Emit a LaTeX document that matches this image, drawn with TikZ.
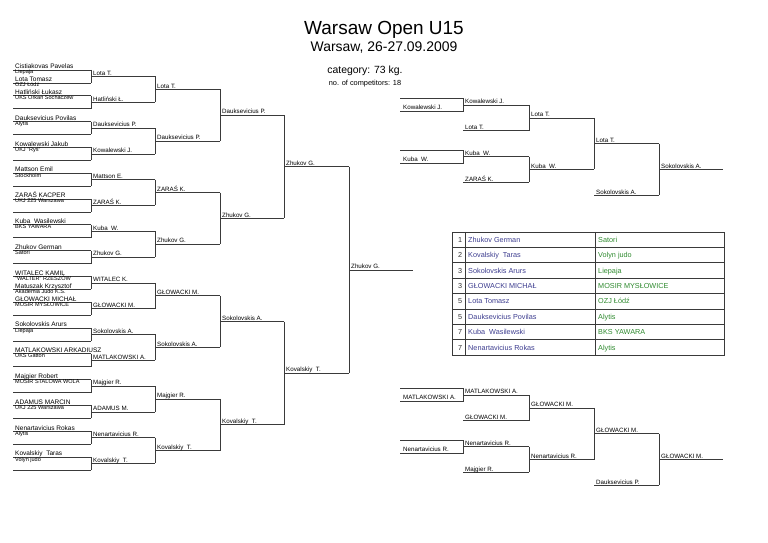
\documentclass[tikz,border=0pt]{standalone}
\usepackage{fontspec}
\setmainfont{Liberation Sans}
\usetikzlibrary{positioning}
\definecolor{bracketgray}{HTML}{3A3A3A}
\definecolor{placename}{HTML}{3D3D8F}
\definecolor{placeclub}{HTML}{2F8A2F}

% one column of a bracket: x from, x to, first y, step, node prefix, names
\newcommand{\drawround}[6]{%
  \foreach \nm [count=\m from 0] in {#6} {
    \pgfmathsetmacro\yy{#3+#4*\m}
    \draw[bline] (#1,\yy) -- (#2,\yy);
    \node[winner] (#5\m) at (#1+2,\yy-1.2) {\nm};
  }%
}
% vertical joins: x, first y, step, number of pairs
\newcommand{\joinpairs}[4]{%
  \foreach \m in {1,...,#4} {
    \pgfmathsetmacro\yy{#2+2*#3*(\m-1)}
    \draw[bline] (#1,\yy) -- (#1,\yy+#3);
  }%
}

\begin{document}
\begin{tikzpicture}[
    x=0.03cm, y=-0.03cm,
    % Styles
    bline/.style={draw=bracketgray, line width=0.55pt},
    entrant/.style={anchor=base west, inner sep=0pt, font=\fontsize{5.55}{6}\selectfont},
    clubname/.style={anchor=base west, inner sep=0pt, font=\fontsize{4.75}{5}\selectfont},
    winner/.style={anchor=base west, inner sep=0pt, font=\fontsize{5.3}{6}\selectfont},
    tabletext/.style={anchor=base west, inner sep=0pt, font=\fontsize{6.2}{7}\selectfont}
]
\useasboundingbox (0,0) rectangle (768,543);

% ── HEADER ──
\node[anchor=base, inner sep=0pt, font=\fontsize{16.2}{18}\selectfont] (title) at (384,35) {Warsaw Open U15};
\node[anchor=base, inner sep=0pt, font=\fontsize{11.9}{13}\selectfont] (venue) at (384,52) {Warsaw, 26-27.09.2009};
\node[anchor=base, inner sep=0pt, font=\fontsize{8.9}{10}\selectfont] (category) at (365,73.5) {category: 73 kg.};
\node[anchor=base, inner sep=0pt, font=\fontsize{6.3}{7}\selectfont] (count) at (365,85.5) {no. of competitors: 18};

% ── MAIN BRACKET: FIRST ROUND ──
\foreach \nm/\cl [count=\k from 0] in {
    Cistiakovas Pavelas/Liepaja,
    Lota Tomasz/OZJ Łódź,
    Hatliński Łukasz/UKS Orkan Sochaczew,
    {}/{},
    Dauksevicius Povilas/Alytis,
    {}/{},
    Kowalewski Jakub/UKJ "Ryś",
    {}/{},
    Mattson Emil/Stockholm,
    {}/{},
    ZARAŚ KACPER/UKJ 225 Warszawa,
    {}/{},
    Kuba~ Wasilewski/BKS YAWARA,
    {}/{},
    Zhukov German/Satori,
    {}/{},
    WITALEC KAMIL/"WALTER" RZESZÓW,
    Matuszak Krzysztof/Akademia Judo K.S.,
    GŁOWACKI MICHAŁ/MOSIR MYSŁOWICE,
    {}/{},
    Sokolovskis Arurs/Liepaja,
    {}/{},
    MATLAKOWSKI ARKADIUSZ/UKS Gatton,
    {}/{},
    Majgier Robert/MOSIR STALOWA WOLA,
    {}/{},
    ADAMUS MARCIN/UKJ 225 Warszawa,
    {}/{},
    Nenartavicius Rokas/Alytis,
    {}/{},
    Kovalskiy~ Taras/Volyn judo,
    {}/{}} {
  \pgfmathsetmacro\yy{70+12.9*\k}
  \draw[bline] (13,\yy) -- (91,\yy);
  \node[entrant] (entry\k) at (15,\yy-1.2) {\nm};
  \node[clubname] (club\k) at (15,\yy+4) {\cl};
}
\joinpairs{91}{70}{12.9}{16}

% ── MAIN BRACKET: LATER ROUNDS ──
\drawround{91}{155}{76.45}{25.8}{wa}{Lota T., Hatliński Ł., Dauksevicius P., Kowalewski J., Mattson E., ZARAŚ K., Kuba~ W., Zhukov G., WITALEC K., GŁOWACKI M., Sokolovskis A., MATLAKOWSKI A., Majgier R., ADAMUS M., Nenartavicius R., Kovalskiy~ T.}
\joinpairs{155}{76.45}{25.8}{8}
\drawround{155}{220}{89.35}{51.6}{wb}{Lota T., Dauksevicius P., ZARAŚ K., Zhukov G., GŁOWACKI M., Sokolovskis A., Majgier R., Kovalskiy~ T.}
\joinpairs{220}{89.35}{51.6}{4}
\drawround{220}{284}{115.15}{103.2}{wc}{Dauksevicius P., Zhukov G., Sokolovskis A., Kovalskiy~ T.}
\joinpairs{284}{115.15}{103.2}{2}
\drawround{284}{349}{166.75}{206.4}{wd}{Zhukov G., Kovalskiy~ T.}
\joinpairs{349}{166.75}{206.4}{1}
\drawround{349}{413}{270.05}{0}{we}{Zhukov G.}

% ── REPECHAGE (upper) ──
\foreach \j/\nm in {0/Kowalewski J., 2/Kuba~ W.} {
  \pgfmathsetmacro\yy{105+25.8*\j}
  \draw[bline] (400,\yy-6.45) -- (463,\yy-6.45) -- (463,\yy+6.45) -- (400,\yy+6.45);
  \node[winner] (ua\j) at (403,\yy+4.95) {\nm};
}
\drawround{463}{529}{105}{25.8}{ub}{Kowalewski J., Lota T., Kuba~ W., ZARAŚ K.}
\joinpairs{529}{105}{25.8}{2}
\drawround{529}{594}{117.9}{51.6}{uc}{Lota T., Kuba~ W.}
\joinpairs{594}{117.9}{51.6}{1}
\drawround{594}{659}{143.7}{51.6}{ud}{Lota T., Sokolovskis A.}
\joinpairs{659}{143.7}{51.6}{1}
\drawround{659}{723}{169.5}{0}{ue}{Sokolovskis A.}

% ── REPECHAGE (lower) ──
\foreach \j/\nm in {0/MATLAKOWSKI A., 2/Nenartavicius R.} {
  \pgfmathsetmacro\yy{395+25.8*\j}
  \draw[bline] (400,\yy-6.45) -- (463,\yy-6.45) -- (463,\yy+6.45) -- (400,\yy+6.45);
  \node[winner] (la\j) at (403,\yy+4.95) {\nm};
}
\drawround{463}{529}{395}{25.8}{lb}{MATLAKOWSKI A., GŁOWACKI M., Nenartavicius R., Majgier R.}
\joinpairs{529}{395}{25.8}{2}
\drawround{529}{594}{407.9}{51.6}{lc}{GŁOWACKI M., Nenartavicius R.}
\joinpairs{594}{407.9}{51.6}{1}
\drawround{594}{659}{433.7}{51.6}{ld}{GŁOWACKI M., Dauksevicius P.}
\joinpairs{659}{433.7}{51.6}{1}
\drawround{659}{723}{459.5}{0}{le}{GŁOWACKI M.}

% ── RESULTS TABLE ──
\foreach \rk/\nm/\cl [count=\i from 0] in {
    1/Zhukov German/Satori,
    2/Kovalskiy~ Taras/Volyn judo,
    3/Sokolovskis Arurs/Liepaja,
    3/GŁOWACKI MICHAŁ/MOSIR MYSŁOWICE,
    5/Lota Tomasz/OZJ Łódź,
    5/Dauksevicius Povilas/Alytis,
    7/Kuba~ Wasilewski/BKS YAWARA,
    7/Nenartavicius Rokas/Alytis} {
  \pgfmathsetmacro\yy{232+15.4*\i}
  \draw[bline] (452,\yy) rectangle (724,\yy+15.4);
  \node[tabletext, anchor=base east, text=black!80] (rank\i) at (462.5,\yy+10.3) {\rk};
  \node[tabletext, text=placename] (place\i) at (468,\yy+10.3) {\nm};
  \node[tabletext, text=placeclub] (pclub\i) at (598,\yy+10.3) {\cl};
}
\draw[bline] (465,232) -- (465,355.2);
\draw[bline] (595,232) -- (595,355.2);

\end{tikzpicture}
\end{document}
